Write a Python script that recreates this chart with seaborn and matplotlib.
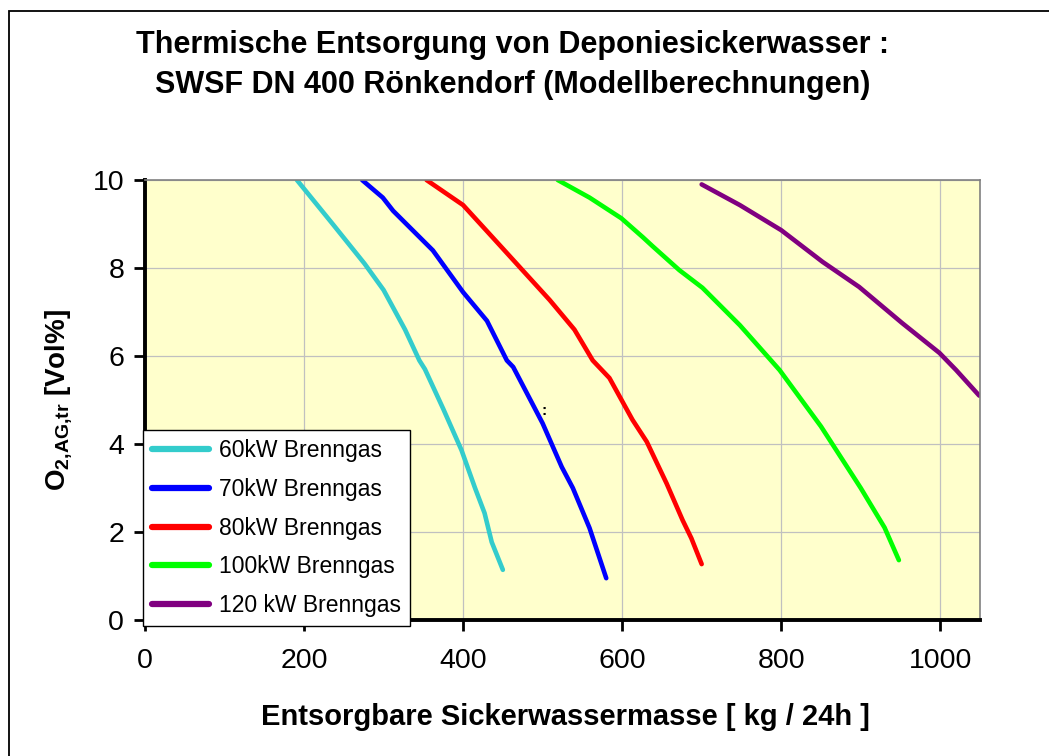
import pandas as pd
import matplotlib
matplotlib.use('Agg')
import matplotlib.pyplot as plt
import matplotlib.patches as patches
import seaborn as sns

# Werte
x_60 = [191, 236, 276, 300, 327, 345, 352, 375, 398, 415, 427, 436, 450]
y_60 = [10.0, 9.0, 8.1, 7.5, 6.6, 5.9, 5.7, 4.8, 3.86, 3.0, 2.43, 1.77, 1.14]

x_70 = [273, 299, 312, 362, 400, 430, 455, 463, 500, 524, 538, 559, 580]
y_70 = [10.0, 9.6, 9.3, 8.4, 7.45, 6.8, 5.9, 5.75, 4.47, 3.48, 3.0, 2.09, 0.95]

x_80 = [354, 400, 446, 509, 540, 563, 584, 613, 631, 656, 676, 687, 700]
y_80 = [10.0, 9.43, 8.52, 7.27, 6.6, 5.9, 5.5, 4.55, 4.05, 3.1, 2.27, 1.86, 1.27]

x_100 = [519, 559, 599, 626, 638, 672, 701, 748, 798, 850, 900, 930, 948]
y_100 = [10.0, 9.6, 9.13, 8.7, 8.5, 7.95, 7.55, 6.7, 5.68, 4.4, 3.0, 2.1, 1.36]

x_120 = [700, 748, 800, 852, 898, 952, 999, 1020, 1049]
y_120 = [9.9, 9.43, 8.86, 8.14, 7.57, 6.75, 6.07, 5.68, 5.1]

labels = ['60kW Brenngas', '70kW Brenngas', '80kW Brenngas',
          '100kW Brenngas', '120 kW Brenngas']
farben = ['#33CCCC', '#0000FF', '#FF0000', '#00FF00', '#800080']
x_ticks = [0, 200, 400, 600, 800, 1000]
y_ticks = [0, 2, 4, 6, 8, 10]

serien = [(x_60, y_60), (x_70, y_70), (x_80, y_80), (x_100, y_100), (x_120, y_120)]

sns.set_style('white')
plt.rcParams['font.family'] = ['Liberation Sans', 'DejaVu Sans']
plt.rcParams['mathtext.fontset'] = 'custom'
plt.rcParams['mathtext.rm'] = 'Liberation Sans'
plt.rcParams['mathtext.bf'] = 'Liberation Sans:bold'
plt.rcParams['text.color'] = 'black'
plt.rcParams['axes.labelcolor'] = 'black'
plt.rcParams['xtick.color'] = 'black'
plt.rcParams['ytick.color'] = 'black'

W, H = 1049, 756
fig = plt.figure(figsize=(W / 100, H / 100), dpi=100)
ax = fig.add_axes([145 / W, 1 - 620 / H, (980 - 145) / W, (620 - 180) / H])
ax.set_facecolor('#FFFFCC')

for (xs, ys), lab, col in zip(serien, labels, farben):
    df = pd.DataFrame({'x': xs, 'y': ys})
    sns.lineplot(data=df, x='x', y='y', sort=False, estimator=None,
                 color=col, lw=3.3, label=lab, ax=ax,
                 solid_capstyle='round', solid_joinstyle='round')

ax.text(502, 4.75, ':', fontsize=11, fontweight='bold', ha='center', va='center')

ax.set_xlim(0, 1050)
ax.set_ylim(0, 10)
ax.set_xticks(x_ticks)
ax.set_yticks(y_ticks)
ax.grid(True, color='#C0C0C0', lw=0.9)
ax.set_axisbelow(True)

for s in ['top', 'right']:
    ax.spines[s].set_color('#808080')
    ax.spines[s].set_linewidth(1.2)
for s in ['left', 'bottom']:
    ax.spines[s].set_color('black')
    ax.spines[s].set_linewidth(2.8)

ax.tick_params(axis='both', direction='out', length=8, width=2, color='black',
               labelsize=20.5, bottom=True, left=True)
ax.tick_params(axis='x', pad=12)
ax.tick_params(axis='y', pad=7)

ax.set_xlabel('Entsorgbare Sickerwassermasse [ kg / 24h ]', fontsize=21, fontweight='bold')
ax.set_ylabel(r'$\mathbf{O_{2{,}AG{,}tr}}$ [Vol%]', fontsize=20, fontweight='bold')
ax.xaxis.set_label_coords((565 - 145) / 835, -(717 - 620) / 440)
ax.yaxis.set_label_coords((58 - 145) / 835, (620 - 400) / 440)
ax.xaxis.label.set_va('center')
ax.yaxis.label.set_va('center')

leg = ax.legend(loc='lower left', bbox_to_anchor=(143 / W, 1 - 626 / H),
                bbox_transform=fig.transFigure, borderaxespad=0,
                fontsize=16.5, frameon=True, fancybox=False, framealpha=1,
                edgecolor='black', handlelength=2.5, handletextpad=0.4,
                labelspacing=0.68, borderpad=0.4)
leg.get_frame().set_linewidth(1.0)
for line in leg.get_lines():
    line.set_linewidth(4.5)

fig.text(513 / W, 1 - 45 / H, 'Thermische Entsorgung von Deponiesickerwasser :',
         fontsize=22, fontweight='bold', ha='center', va='center')
fig.text(513 / W, 1 - 85 / H, 'SWSF DN 400 Rönkendorf (Modellberechnungen)',
         fontsize=22, fontweight='bold', ha='center', va='center')

rahmen = patches.Rectangle((9 / W, -0.5), 2, 1.5 - 11 / H, transform=fig.transFigure,
                           fill=False, edgecolor='black', lw=1.3, clip_on=False)
fig.add_artist(rahmen)

fig.savefig('out.png', dpi=100, facecolor='white')
